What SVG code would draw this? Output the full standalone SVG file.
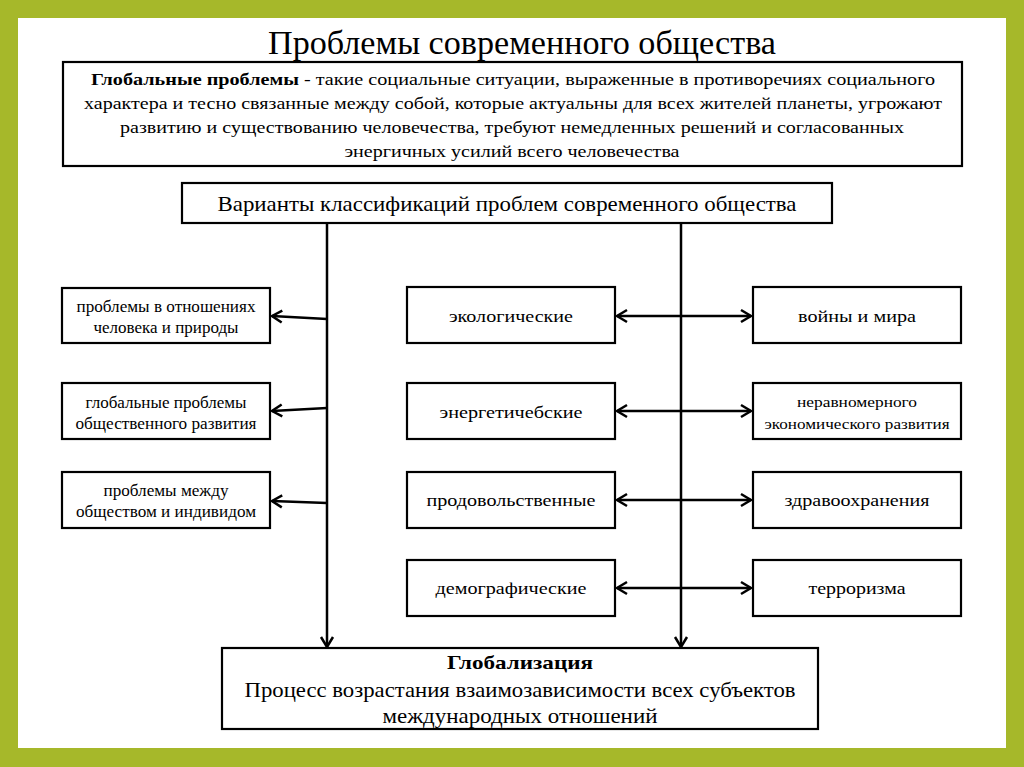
<svg xmlns="http://www.w3.org/2000/svg" width="1024" height="767" viewBox="0 0 1024 767">
<defs>
<style>
.box{fill:#fff;stroke:#000;stroke-width:2.2}
.t{font-family:"Liberation Serif","Times New Roman",serif;fill:#000;text-anchor:middle}
.con{stroke:#000;stroke-width:2.5;fill:none}
</style>
<marker id="ah" viewBox="-12 -8 14 16" markerWidth="14" markerHeight="16" refX="0" refY="0" orient="auto-start-reverse" markerUnits="userSpaceOnUse">
<path d="M-10,-6 L0,0 L-10,6" fill="none" stroke="#000" stroke-width="2.5"/>
</marker>
</defs>
<rect x="0" y="0" width="1024" height="767" fill="#A6B82A"/>
<rect x="18" y="18" width="988" height="730" fill="#fff"/>

<g id="title"><text class="t" x="522" y="54" font-size="34" textLength="508" lengthAdjust="spacingAndGlyphs">Проблемы современного общества</text></g>

<g id="definition">
<rect class="box" x="63" y="62" width="899" height="104"/>
<text class="t" x="513" y="85" font-size="17" textLength="844" lengthAdjust="spacingAndGlyphs"><tspan font-weight="bold">Глобальные проблемы</tspan> -  такие социальные ситуации, выраженные в противоречиях социального</text>
<text class="t" x="513" y="109" font-size="17" textLength="858" lengthAdjust="spacingAndGlyphs">характера и тесно связанные между собой, которые актуальны для всех жителей планеты, угрожают</text>
<text class="t" x="512" y="133" font-size="17" textLength="784" lengthAdjust="spacingAndGlyphs">развитию и существованию человечества, требуют немедленных решений и согласованных</text>
<text class="t" x="512" y="157" font-size="17" textLength="335" lengthAdjust="spacingAndGlyphs">энергичных усилий всего человечества</text>
</g>

<g id="variants">
<rect class="box" x="182" y="183" width="650" height="40"/>
<text class="t" x="507" y="211" font-size="22" textLength="579" lengthAdjust="spacingAndGlyphs">Варианты классификаций проблем современного общества</text>
</g>

<g id="left1"><rect class="box" x="62" y="288" width="208" height="55"/>
<text class="t" x="166" y="312" font-size="16" textLength="179" lengthAdjust="spacingAndGlyphs">проблемы в отношениях</text>
<text class="t" x="166" y="333" font-size="16" textLength="145" lengthAdjust="spacingAndGlyphs">человека и природы</text></g>
<g id="left2"><rect class="box" x="62" y="383" width="208" height="56"/>
<text class="t" x="166" y="408" font-size="16" textLength="161" lengthAdjust="spacingAndGlyphs">глобальные проблемы</text>
<text class="t" x="166" y="429" font-size="16" textLength="181" lengthAdjust="spacingAndGlyphs">общественного развития</text></g>
<g id="left3"><rect class="box" x="62" y="472" width="208" height="56"/>
<text class="t" x="166" y="496" font-size="16" textLength="125" lengthAdjust="spacingAndGlyphs">проблемы между</text>
<text class="t" x="166" y="517" font-size="16" textLength="180" lengthAdjust="spacingAndGlyphs">обществом и индивидом</text></g>

<g id="mid1"><rect class="box" x="407" y="287" width="208" height="56"/>
<text class="t" x="511" y="322" font-size="17" textLength="124" lengthAdjust="spacingAndGlyphs">экологические</text></g>
<g id="mid2"><rect class="box" x="407" y="383" width="208" height="56"/>
<text class="t" x="511" y="418" font-size="17" textLength="143" lengthAdjust="spacingAndGlyphs">энергетичебские</text></g>
<g id="mid3"><rect class="box" x="407" y="472" width="208" height="56"/>
<text class="t" x="511" y="506" font-size="17" textLength="169" lengthAdjust="spacingAndGlyphs">продовольственные</text></g>
<g id="mid4"><rect class="box" x="407" y="560" width="208" height="56"/>
<text class="t" x="511" y="594" font-size="17" textLength="151" lengthAdjust="spacingAndGlyphs">демографические</text></g>

<g id="right1"><rect class="box" x="753" y="287" width="208" height="56"/>
<text class="t" x="857" y="322" font-size="17" textLength="118" lengthAdjust="spacingAndGlyphs">войны и мира</text></g>
<g id="right2"><rect class="box" x="753" y="383" width="208" height="56"/>
<text class="t" x="857" y="407" font-size="15" textLength="120" lengthAdjust="spacingAndGlyphs">неравномерного</text>
<text class="t" x="857" y="429" font-size="15" textLength="185" lengthAdjust="spacingAndGlyphs">экономического развития</text></g>
<g id="right3"><rect class="box" x="753" y="472" width="208" height="56"/>
<text class="t" x="857" y="506" font-size="17" textLength="145" lengthAdjust="spacingAndGlyphs">здравоохранения</text></g>
<g id="right4"><rect class="box" x="753" y="560" width="208" height="56"/>
<text class="t" x="857" y="594" font-size="17" textLength="97" lengthAdjust="spacingAndGlyphs">терроризма</text></g>

<g id="globalization"><rect class="box" x="222" y="648" width="596" height="81"/>
<text class="t" x="520" y="669" font-size="19" font-weight="bold" textLength="146" lengthAdjust="spacingAndGlyphs">Глобализация</text>
<text class="t" x="520" y="697" font-size="21" textLength="551" lengthAdjust="spacingAndGlyphs">Процесс возрастания взаимозависимости всех субъектов</text>
<text class="t" x="520" y="723" font-size="21" textLength="275" lengthAdjust="spacingAndGlyphs">международных отношений</text></g>

<g id="connectors">
<line class="con" x1="327" y1="223" x2="327" y2="647" marker-end="url(#ah)"/>
<line class="con" x1="681" y1="223" x2="681" y2="647" marker-end="url(#ah)"/>
<line class="con" x1="327" y1="319" x2="272" y2="316" marker-end="url(#ah)"/>
<line class="con" x1="327" y1="408" x2="272" y2="411" marker-end="url(#ah)"/>
<line class="con" x1="327" y1="503" x2="272" y2="501" marker-end="url(#ah)"/>
<line class="con" x1="617" y1="316" x2="751" y2="316" marker-start="url(#ah)" marker-end="url(#ah)"/>
<line class="con" x1="617" y1="411" x2="751" y2="411" marker-start="url(#ah)" marker-end="url(#ah)"/>
<line class="con" x1="617" y1="500" x2="751" y2="500" marker-start="url(#ah)" marker-end="url(#ah)"/>
<line class="con" x1="617" y1="588" x2="751" y2="588" marker-start="url(#ah)" marker-end="url(#ah)"/>
</g>
</svg>
